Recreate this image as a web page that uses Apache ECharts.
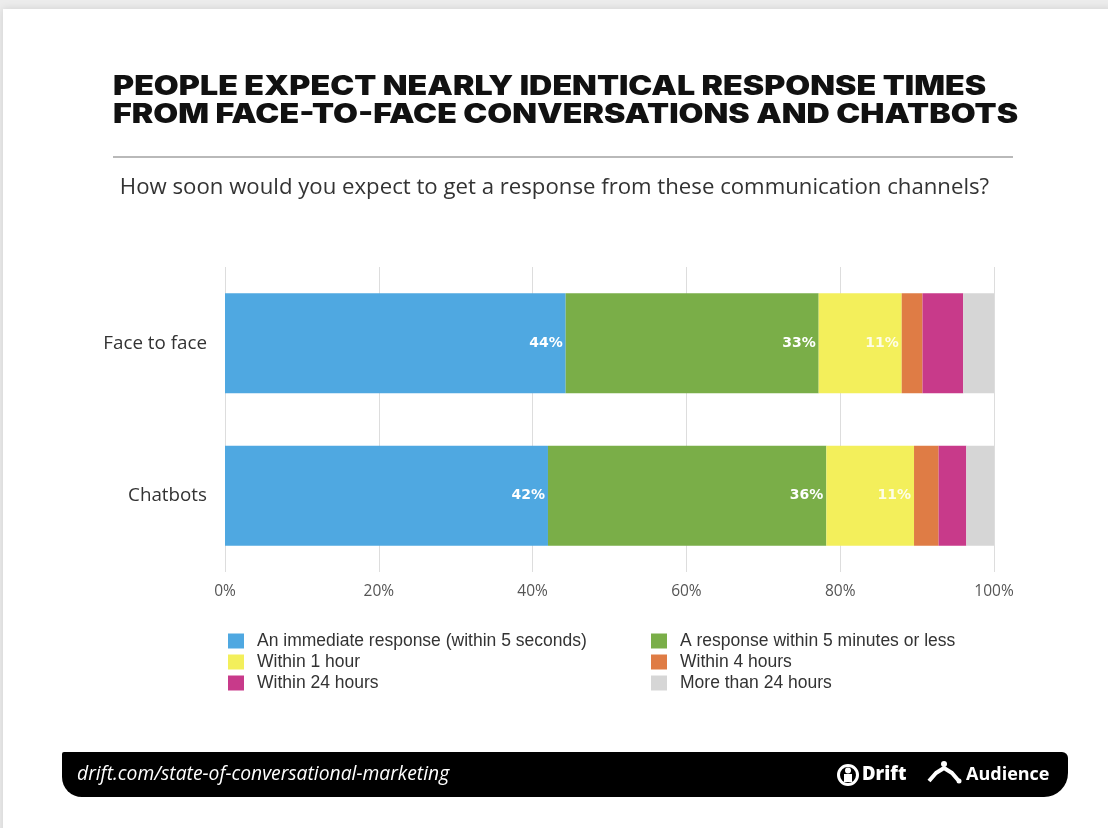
<!DOCTYPE html>
<html>
<head>
<meta charset="utf-8">
<script src="https://cdn.jsdelivr.net/npm/echarts@6/dist/echarts.min.js"></script>
<style>
html,body{margin:0;padding:0;background:#ececec;}
#chart{width:1108px;height:828px;}
</style>
</head>
<body>
<div id="chart"></div>
<script>
// ---- data ----
const categories = ['Face to face', 'Chatbots'];
const seriesNames = [
  'An immediate response (within 5 seconds)',
  'A response within 5 minutes or less',
  'Within 1 hour',
  'Within 4 hours',
  'Within 24 hours',
  'More than 24 hours'
];
const immediate = [44.3, 42.0];
const within5min = [32.9, 36.2];
const within1h = [10.8, 11.4];
const within4h = [2.7, 3.2];
const within24h = [5.3, 3.6];
const moreThan24h = [4.0, 3.6];
const tickLabels = ['0%', '20%', '40%', '60%', '80%', '100%'];
const colors = ['#4fa8e1', '#7aae48', '#f3ef5b', '#df7c45', '#c83a8a', '#d6d6d6'];

const values = [immediate, within5min, within1h, within4h, within24h, moreThan24h];
const labelled = [true, true, true, false, false, false];

const chart = echarts.init(document.getElementById('chart'), null, {renderer: 'canvas'});

const series = values.map((v, i) => ({
  name: seriesNames[i],
  type: 'bar',
  stack: 'total',
  barWidth: 100,
  data: v.slice().reverse(),
  itemStyle: {color: colors[i]},
  label: {
    show: labelled[i],
    position: 'insideRight',
    distance: 3,
    color: i === 2 ? 'rgba(255,255,255,0.85)' : '#ffffff',
    fontFamily: 'DejaVu Sans',
    fontWeight: 'bold',
    fontSize: 14,
    formatter: p => Math.round(p.value) + '%'
  },
  emphasis: {disabled: true}
}));

const legendText = {fontFamily: 'Liberation Sans', fontSize: 17.5, lineHeight: 18, color: '#333333', padding: [0, 0, 0, 8]};

const option = {
  animation: false,
  backgroundColor: '#ececec',
  graphic: [
    {type: 'rect', z: -10, shape: {x: 3, y: 9, width: 1110, height: 830},
      style: {fill: '#ffffff', shadowBlur: 8, shadowColor: 'rgba(0,0,0,0.12)'}},
    {type: 'text', x: 113, y: 73, scaleX: 1.215, z: 5,
      style: {text: 'PEOPLE EXPECT NEARLY IDENTICAL RESPONSE TIMES\nFROM FACE-TO-FACE CONVERSATIONS AND CHATBOTS',
        fontFamily: 'Inter', fontWeight: 900, fontSize: 26.5, lineHeight: 28, fill: '#111111', verticalAlign: 'top'}},
    {type: 'line', z: 5, shape: {x1: 113, y1: 157, x2: 1013, y2: 157},
      style: {stroke: '#b9b9b9', lineWidth: 2}},
    {type: 'text', x: 554.5, y: 188, z: 5,
      style: {text: 'How soon would you expect to get a response from these communication channels?',
        fontFamily: 'Open Sans', fontSize: 22.2, fill: '#333333', align: 'center', verticalAlign: 'middle'}},
    {type: 'rect', z: 5, shape: {x: 62, y: 752, width: 1006, height: 45, r: [2, 6, 24, 20]},
      style: {fill: '#000000'}},
    {type: 'text', x: 77, y: 775, z: 6,
      style: {text: 'drift.com/state-of-conversational-marketing', fontFamily: 'Open Sans', fontStyle: 'italic',
        fontSize: 19.3, fill: '#ffffff', verticalAlign: 'middle'}},
    {type: 'circle', z: 6, shape: {cx: 848, cy: 775, r: 9.5}, style: {fill: 'none', stroke: '#ffffff', lineWidth: 3}},
    {type: 'circle', z: 6, shape: {cx: 848, cy: 770.5, r: 3}, style: {fill: '#ffffff'}},
    {type: 'rect', z: 6, shape: {x: 844, y: 774, width: 8, height: 8}, style: {fill: '#ffffff'}},
    {type: 'text', x: 862, y: 775, z: 6,
      style: {text: 'Drift', fontFamily: 'Open Sans', fontWeight: 800, fontSize: 18.5, fill: '#ffffff', verticalAlign: 'middle'}},
    {type: 'polyline', z: 6, shape: {points: [[929, 781], [936, 773], [944, 768], [952, 773], [958, 780]]},
      style: {stroke: '#ffffff', lineWidth: 4, fill: 'none', lineJoin: 'round'}},
    {type: 'circle', z: 6, shape: {cx: 944, cy: 764, r: 3}, style: {fill: '#ffffff'}},
    {type: 'circle', z: 6, shape: {cx: 959, cy: 781, r: 2.5}, style: {fill: '#ffffff'}},
    {type: 'text', x: 966, y: 775, z: 6,
      style: {text: 'Audience', fontFamily: 'Open Sans', fontWeight: 'bold', fontSize: 18, fill: '#ffffff', verticalAlign: 'middle'}}
  ],
  legend: [
    {data: [seriesNames[0], seriesNames[2], seriesNames[4]], orient: 'vertical', left: 228, top: 632,
      itemWidth: 16, itemHeight: 15, itemGap: 3, icon: 'rect', selectedMode: false, padding: 0,
      textStyle: legendText},
    {data: [seriesNames[1], seriesNames[3], seriesNames[5]], orient: 'vertical', left: 651, top: 632,
      itemWidth: 16, itemHeight: 15, itemGap: 3, icon: 'rect', selectedMode: false, padding: 0,
      textStyle: legendText}
  ],
  grid: {left: 225, right: 114, top: 267, bottom: 256, containLabel: false},
  xAxis: {
    type: 'value', min: 0, max: 100, interval: 20,
    axisLine: {show: false}, axisTick: {show: false},
    splitLine: {lineStyle: {color: '#dddddd', width: 1}},
    axisLabel: {margin: 12, fontFamily: 'Open Sans', fontSize: 15.5, color: '#555555',
      formatter: (v) => tickLabels[Math.round(v / 20)]}
  },
  yAxis: {
    type: 'category', data: categories.slice().reverse(),
    axisLine: {show: false}, axisTick: {show: false},
    axisLabel: {margin: 18, fontFamily: 'Open Sans', fontSize: 18.8, color: '#333333'}
  },
  series: series
};
chart.setOption(option);
</script>
</body>
</html>
